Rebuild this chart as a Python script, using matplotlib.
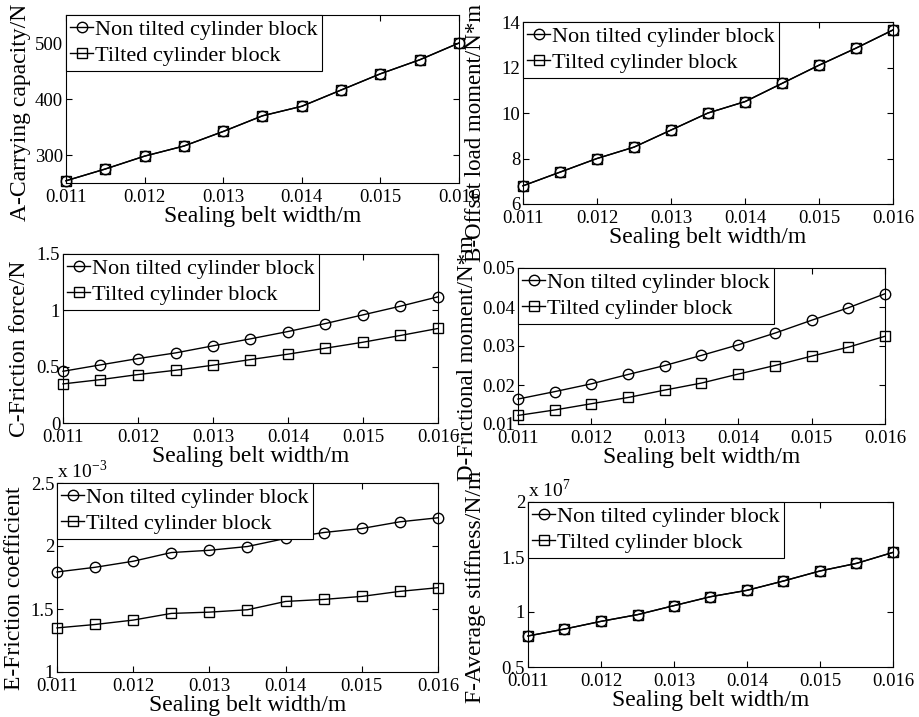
import matplotlib.pyplot as plt
import numpy as np

plt.rcParams['font.family'] = ['Liberation Serif', 'DejaVu Serif']
plt.rcParams['mathtext.fontset'] = 'custom'
plt.rcParams['mathtext.rm'] = 'Liberation Serif'

width = [0.011, 0.0115, 0.012, 0.0125, 0.013, 0.0135, 0.014, 0.0145, 0.015, 0.0155, 0.016]

capacity_non = [254, 275, 298, 316, 342, 370, 387, 416, 445, 470, 500]
capacity_tilt = [254, 275, 298, 316, 342, 370, 387, 416, 445, 470, 500]

moment_non = [6.8, 7.4, 8.0, 8.5, 9.25, 10.0, 10.5, 11.3, 12.1, 12.85, 13.65]
moment_tilt = [6.8, 7.4, 8.0, 8.5, 9.25, 10.0, 10.5, 11.3, 12.1, 12.85, 13.65]

friction_non = [0.459, 0.516, 0.572, 0.622, 0.685, 0.747, 0.812, 0.883, 0.960, 1.037, 1.120]
friction_tilt = [0.347, 0.385, 0.430, 0.468, 0.513, 0.563, 0.611, 0.664, 0.717, 0.777, 0.839]

fmoment_non = [0.0164, 0.0183, 0.0203, 0.0227, 0.0250, 0.0276, 0.0303, 0.0333, 0.0366, 0.0398, 0.0434]
fmoment_tilt = [0.0122, 0.0136, 0.0152, 0.0168, 0.0187, 0.0205, 0.0228, 0.0250, 0.0274, 0.0297, 0.0325]

# friction coefficient, in units of 1e-3
coef_non = [1.794, 1.831, 1.879, 1.948, 1.966, 1.996, 2.06, 2.107, 2.139, 2.192, 2.224]
coef_tilt = [1.350, 1.377, 1.412, 1.465, 1.475, 1.494, 1.560, 1.576, 1.600, 1.640, 1.669]

# average stiffness, in units of 1e7
stiff_non = [0.782, 0.845, 0.915, 0.976, 1.058, 1.139, 1.197, 1.282, 1.373, 1.442, 1.542]
stiff_tilt = [0.782, 0.845, 0.915, 0.976, 1.058, 1.139, 1.197, 1.282, 1.373, 1.442, 1.542]

xticks = [0.011, 0.012, 0.013, 0.014, 0.015, 0.016]

W, H = 919, 717
fig = plt.figure(figsize=(W / 100, H / 100), dpi=100)


def box(l, r, t, b):
    return [l / W, 1 - b / H, (r - l) / W, (b - t) / H]


# axes rect, data, y label with its centre (px) and size, y limits and ticks, scale note
panels = [
    (box(66, 459, 15, 183), capacity_non, capacity_tilt, 'A-Carrying capacity/N', (21, 112, 17),
     (250, 550), [300, 400, 500], ['300', '400', '500'], None),
    (box(523, 893, 22, 204), moment_non, moment_tilt, 'B-Offset load moment/N*m', (475, 133, 16.5),
     (6, 14), [6, 8, 10, 12, 14], ['6', '8', '10', '12', '14'], None),
    (box(63, 438, 254, 423), friction_non, friction_tilt, 'C-Friction force/N', (20, 349, 17),
     (0, 1.5), [0, 0.5, 1, 1.5], ['0', '0.5', '1', '1.5'], None),
    (box(518, 885, 268, 424), fmoment_non, fmoment_tilt, 'D-Frictional moment/N*m', (467, 358, 16.5),
     (0.01, 0.05), [0.01, 0.02, 0.03, 0.04, 0.05], ['0.01', '0.02', '0.03', '0.04', '0.05'], None),
    (box(57, 438, 483, 672), coef_non, coef_tilt, 'E-Friction coefficient', (15, 588, 17),
     (1, 2.5), [1, 1.5, 2, 2.5], ['1', '1.5', '2', '2.5'], r'x 10$^{-3}$'),
    (box(528, 893, 502, 667), stiff_non, stiff_tilt, 'F-Average stiffness/N/m', (476, 587, 17),
     (0.5, 2), [0.5, 1, 1.5, 2], ['0.5', '1', '1.5', '2'], r'x 10$^{7}$'),
]

for rect, ynon, ytilt, ylabel, ypos, ylim, yt, ytl, scale in panels:
    ax = fig.add_axes(rect)
    ax.plot(width, ynon, color='black', lw=1, marker='o', ms=7.5, mfc='none',
            mec='black', clip_on=False, label='Non tilted cylinder block')
    ax.plot(width, ytilt, color='black', lw=1, marker='s', ms=7, mfc='none',
            mec='black', clip_on=False, label='Tilted cylinder block')
    ax.set_xlim(0.011, 0.016)
    ax.set_ylim(*ylim)
    ax.set_xticks(xticks)
    ax.set_xticklabels(['%.3f' % v for v in xticks])
    ax.set_yticks(yt)
    ax.set_yticklabels(ytl)
    ax.tick_params(direction='in', top=True, right=True, labelsize=13.5, length=4)
    ax.tick_params(axis='x', pad=4)
    ax.tick_params(axis='y', pad=2)
    ax.set_xlabel('Sealing belt width/m', fontsize=17, labelpad=0)
    fig.text(ypos[0] / W, 1 - ypos[1] / H, ylabel, rotation=90, fontsize=ypos[2],
             ha='center', va='center')
    for s in ax.spines.values():
        s.set_linewidth(0.8)
    leg = ax.legend(loc='upper left', fontsize=16, frameon=True, fancybox=False,
                    borderaxespad=0, handlelength=1.0, handletextpad=0.1,
                    borderpad=0.2, labelspacing=0.25, framealpha=1)
    leg.get_frame().set_edgecolor('black')
    leg.get_frame().set_linewidth(0.8)
    if scale:
        ax.text(0.0, 1.005, scale, transform=ax.transAxes, fontsize=14,
                ha='left', va='bottom')

fig.savefig('out.png', dpi=100)
